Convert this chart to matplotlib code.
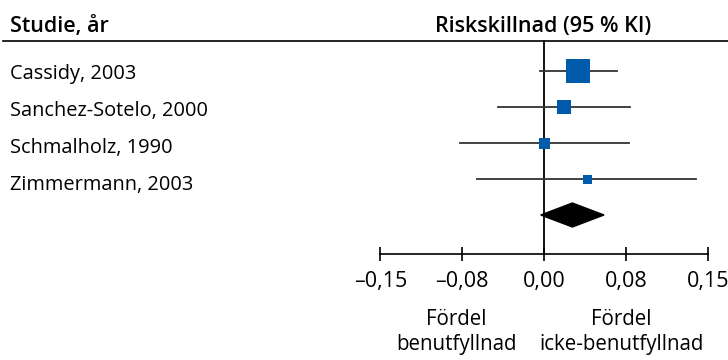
import matplotlib.pyplot as plt
from matplotlib.patches import Polygon

plt.rcParams['font.family'] = ['Open Sans', 'DejaVu Sans']

studies = ['Cassidy, 2003', 'Sanchez-Sotelo, 2000', 'Schmalholz, 1990', 'Zimmermann, 2003']
estimate = [0.031, 0.018, 0.0, 0.039]
ci_low = [-0.004, -0.042, -0.077, -0.061]
ci_high = [0.067, 0.079, 0.078, 0.139]
weight_px = [24, 14, 11, 9]

pooled_est = 0.026
pooled_low = -0.003
pooled_high = 0.055

ticks = [-0.15, -0.075, 0.0, 0.075, 0.15]
tick_labels = ['\u20130,15', '\u20130,08', '0,00', '0,08', '0,15']

blue = '#005bab'
dpi = 100
fs = 14.4

fig = plt.figure(figsize=(7.28, 3.6), dpi=dpi)
ax = fig.add_axes([0, 0, 1, 1])
# 0 at x=544px, 1091 px per unit; rows 36 px apart starting at y=71px
ax.set_xlim(-544 / 1091, 184 / 1091)
ax.set_ylim((360 - 71) / 36, -71 / 36)

for s in ['top', 'left', 'right']:
    ax.spines[s].set_visible(False)
axis_y = (254 - 71) / 36
ax.spines['bottom'].set_position(('data', axis_y))
ax.spines['bottom'].set_bounds(-0.15, 0.15)
ax.spines['bottom'].set_linewidth(1.2)
ax.set_yticks([])
ax.set_xticks(ticks)
ax.set_xticklabels(tick_labels)
ax.tick_params(axis='x', direction='inout', length=10, width=1.2, pad=7,
               labelsize=15.5, colors='black')

header_y = (41 - 71) / 36
ax.plot([-541 / 1091, 184 / 1091], [header_y, header_y], color='black', lw=1.2,
        clip_on=False)
ax.plot([0, 0], [header_y, axis_y], color='black', lw=1.3)

ax.text(-534 / 1091, (27 - 71) / 36, 'Studie, år', fontsize=15.5, fontweight='semibold',
        va='center', ha='left')
ax.text(-0.001, (27 - 71) / 36, 'Riskskillnad (95 % KI)', fontsize=15.5,
        fontweight='semibold', va='center', ha='center')

for i, name in enumerate(studies):
    ax.plot([ci_low[i], ci_high[i]], [i, i], color='#333333', lw=1.3, zorder=2)
    ax.plot(estimate[i], i, marker='s', color=blue, markersize=weight_px[i] * 72 / dpi,
            markeredgewidth=0, zorder=3)
    # labels sit slightly lower than the markers, as in the original
    ax.text(-534 / 1091, i * 1.03 + 0.22, name, fontsize=fs, va='baseline', ha='left')

row = len(studies)
h = 12 / 36
diamond = Polygon([(pooled_low, row), (pooled_est, row - h), (pooled_high, row),
                   (pooled_est, row + h)], closed=True, color='black', zorder=3)
ax.add_patch(diamond)

ax.text(-0.08, (332 - 71) / 36, 'Fördel\nbenutfyllnad', fontsize=14.8, ha='center',
        va='center', linespacing=1.3)
ax.text(0.071, (332 - 71) / 36, 'Fördel\nicke-benutfyllnad', fontsize=14.8,
        ha='center', va='center', linespacing=1.3)

fig.savefig('out.png', dpi=dpi)
